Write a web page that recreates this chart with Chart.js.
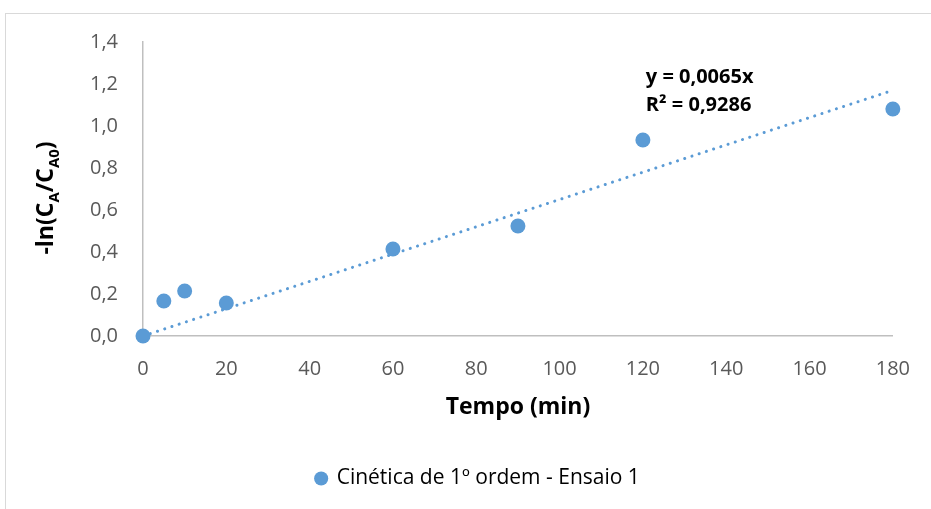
<!DOCTYPE html>
<html>
<head>
<meta charset="utf-8">
<script src="https://cdn.jsdelivr.net/npm/chart.js@4/dist/chart.umd.min.js"></script>
<style>
  html, body { margin: 0; padding: 0; background: #fff; }
  #wrap { position: relative; width: 931px; height: 509px; overflow: hidden; }
  #moldura { position: absolute; left: 5px; top: 13px; width: 1000px; height: 600px;
    border-left: 1px solid #d9d9d9; border-top: 1px solid #d9d9d9; pointer-events: none; }
  canvas { position: absolute; left: 0; top: 0; }
</style>
</head>
<body>
<div id="wrap">
  <canvas id="grafico" width="931" height="509"></canvas>
  <div id="moldura"></div>
</div>
<script>
// dados
var tempo = [0, 5, 10, 20, 60, 90, 120, 180]
var lnCA = [0, 0.167, 0.214, 0.157, 0.414, 0.524, 0.933, 1.081]
var tendX = [0, 180]
var tendY = [0, 1.17]
var nomeSerie = 'Cinética de 1º ordem - Ensaio 1'
var equacao = ['y = 0,0065x', 'R² = 0,9286']

var azul = '#5b9bd5'
var fonte = "'Open Sans', sans-serif"

var pontos = tempo.map(function(t, i){ return { x: t, y: lnCA[i] } })
var linha = tendX.map(function(t, i){ return { x: t, y: tendY[i] } })

// titulo do eixo y com subscritos + equacao da linha de tendencia
var textosExtras = {
  id: 'textosExtras',
  afterDraw: function(chart) {
    var ctx = chart.ctx
    var area = chart.chartArea
    var partes = [
      ['-ln(C', 23, 0], ['A', 15, 6], ['/C', 23, 0], ['A0', 15, 6], [')', 23, 0]
    ]
    ctx.save()
    ctx.fillStyle = '#000'
    ctx.textBaseline = 'alphabetic'
    var total = 0
    partes.forEach(function(p){
      ctx.font = 'bold ' + p[1] + 'px ' + fonte
      total += ctx.measureText(p[0]).width
    })
    ctx.translate(area.left - 98, 198)
    ctx.rotate(-Math.PI / 2)
    var x = -total / 2
    partes.forEach(function(p){
      ctx.font = 'bold ' + p[1] + 'px ' + fonte
      ctx.fillText(p[0], x, 8 + p[2])
      x += ctx.measureText(p[0]).width
    })
    ctx.restore()

    ctx.save()
    ctx.fillStyle = '#000'
    ctx.font = 'bold 20px ' + fonte
    ctx.textBaseline = 'middle'
    ctx.fillText(equacao[0], area.right - 247, 77)
    ctx.fillText(equacao[1], area.right - 247, 105)
    ctx.restore()
  }
}

new Chart(document.getElementById('grafico'), {
  type: 'scatter',
  data: {
    datasets: [{
      label: nomeSerie,
      data: pontos,
      backgroundColor: azul,
      borderColor: azul,
      borderWidth: 0,
      pointRadius: 7.5,
      pointStyle: 'circle',
      clip: false
    }, {
      label: 'Linear',
      type: 'line',
      data: linha,
      showLine: true,
      borderColor: azul,
      borderWidth: 3,
      borderDash: [0.1, 7.5],
      borderCapStyle: 'round',
      pointRadius: 0,
      fill: false,
      clip: false
    }]
  },
  options: {
    responsive: false,
    animation: false,
    layout: { padding: { top: 42, right: 37, left: 62, bottom: 10 } },
    scales: {
      x: {
        type: 'linear',
        min: 0,
        max: 180,
        grid: { display: false, drawTicks: false },
        border: { color: '#bfbfbf', width: 1.5 },
        ticks: { stepSize: 20, color: '#595959', font: { family: fonte, size: 20 }, padding: 21 },
        title: { display: true, text: 'Tempo (min)', color: '#000', font: { family: fonte, size: 23, weight: 'bold' }, padding: { top: 10, bottom: 37 } },
        afterFit: function(scale){ scale.height = 122 }
      },
      y: {
        min: 0,
        max: 1.4,
        grid: { display: false, drawTicks: false },
        border: { color: '#bfbfbf', width: 1.5 },
        ticks: {
          stepSize: 0.2,
          color: '#595959',
          font: { family: fonte, size: 20 },
          padding: 25,
          callback: function(v){ return v.toFixed(1).replace('.', ',') }
        },
        afterFit: function(scale){ scale.width = 81 }
      }
    },
    plugins: {
      legend: {
        display: true,
        position: 'bottom',
        labels: {
          usePointStyle: true,
          boxWidth: 10,
          boxHeight: 10,
          padding: 10,
          color: '#000',
          font: { family: fonte, size: 21 },
          filter: function(item){ return item.datasetIndex == 0 }
        }
      },
      tooltip: { enabled: false }
    }
  },
  plugins: [textosExtras]
})
</script>
</body>
</html>
